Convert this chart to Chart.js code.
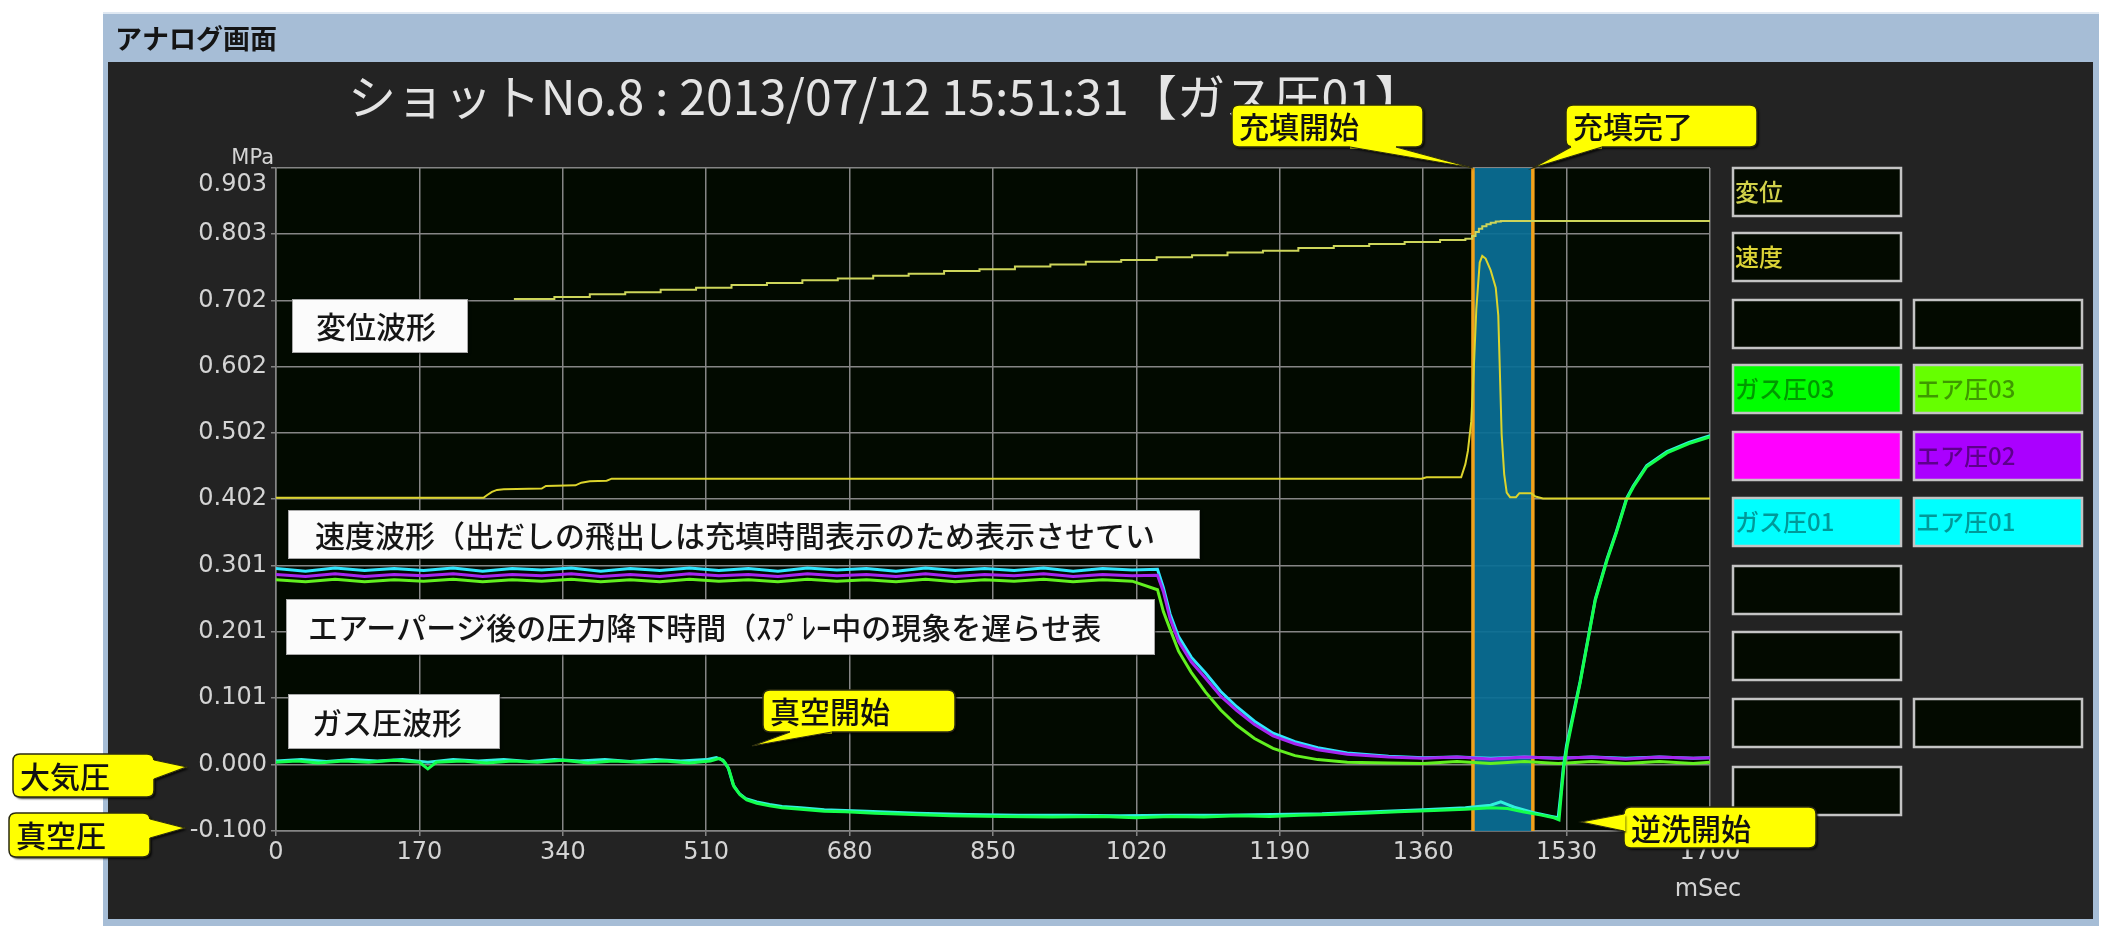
<!DOCTYPE html>
<html lang="ja">
<head>
<meta charset="utf-8">
<title>アナログ画面</title>
<script src="https://cdn.jsdelivr.net/npm/chart.js@4/dist/chart.umd.min.js"></script>
<style>
  html, body { margin: 0; padding: 0; background: #ffffff; overflow: hidden; }
  canvas { display: block; }
</style>
</head>
<body>
<canvas id="analog" width="2105" height="926"></canvas>
<script>
// ---------- axis ticks ----------
const xTickValues = [0, 170, 340, 510, 680, 850, 1020, 1190, 1360, 1530, 1700];
const yTickValues = [-0.100, 0.000, 0.101, 0.201, 0.301, 0.402, 0.502, 0.602, 0.702, 0.803, 0.903];

// ---------- 変位 (displacement, stepped trace) ----------
const dispTime  = [282, 330, 372, 414, 456, 498, 540, 582, 624, 666,
                   708, 750, 792, 834, 876, 918, 960, 1002, 1044, 1086,
                   1128, 1170, 1212, 1254, 1296, 1338, 1380, 1410, 1418, 1422,
                   1426, 1430, 1435, 1440, 1446, 1452, 1700];
const dispValue = [0.705, 0.708, 0.712, 0.715, 0.719, 0.722, 0.726, 0.729, 0.733, 0.736,
                   0.740, 0.743, 0.747, 0.750, 0.754, 0.757, 0.761, 0.764, 0.768, 0.771,
                   0.775, 0.778, 0.782, 0.785, 0.788, 0.791, 0.794, 0.796, 0.800, 0.806,
                   0.811, 0.815, 0.818, 0.820, 0.822, 0.823, 0.823];

// ---------- 速度 (velocity) ----------
const velTime  = [0, 246, 250, 256, 262, 270, 315, 320, 355, 362,
                  372, 392, 398, 1358, 1364, 1405, 1410, 1413, 1417, 1420,
                  1423, 1427, 1430, 1434, 1440, 1446, 1449, 1451, 1453, 1456,
                  1459, 1463, 1470, 1474, 1488, 1493, 1502, 1700];
const velValue = [0.404, 0.404, 0.408, 0.413, 0.416, 0.417, 0.418, 0.422, 0.423, 0.427,
                  0.429, 0.430, 0.433, 0.433, 0.435, 0.435, 0.455, 0.475, 0.520, 0.600,
                  0.690, 0.760, 0.770, 0.766, 0.748, 0.722, 0.680, 0.590, 0.500, 0.440,
                  0.412, 0.405, 0.405, 0.411, 0.411, 0.406, 0.403, 0.403];

// ---------- エア圧 01/02/03 (air pressure) ----------
const airTime = [0, 35, 70, 105, 140, 175, 210, 245, 280, 315,
                 350, 385, 420, 455, 490, 525, 560, 595, 630, 665,
                 700, 735, 770, 805, 840, 875, 910, 945, 980, 1015,
                 1045, 1052, 1060, 1070, 1085, 1102, 1120, 1139, 1160, 1182,
                 1208, 1235, 1270, 1319, 1360, 1400, 1440, 1480, 1520, 1560,
                 1600, 1640, 1680, 1700];
const air01Value = [0.297, 0.293, 0.298, 0.294, 0.297, 0.294, 0.298, 0.293, 0.297, 0.295,
                    0.298, 0.293, 0.297, 0.294, 0.298, 0.294, 0.297, 0.293, 0.298, 0.295,
                    0.297, 0.293, 0.298, 0.294, 0.297, 0.294, 0.298, 0.293, 0.297, 0.295,
                    0.296, 0.268, 0.228, 0.194, 0.163, 0.139, 0.111, 0.088, 0.066, 0.048,
                    0.035, 0.026, 0.018, 0.013, 0.011, 0.012, 0.010, 0.012, 0.010, 0.012,
                    0.010, 0.012, 0.010, 0.011];
const air02Value = [0.288, 0.285, 0.289, 0.285, 0.288, 0.286, 0.289, 0.285, 0.288, 0.286,
                    0.289, 0.285, 0.288, 0.285, 0.289, 0.286, 0.288, 0.285, 0.289, 0.286,
                    0.288, 0.285, 0.289, 0.285, 0.288, 0.286, 0.289, 0.285, 0.288, 0.286,
                    0.287, 0.262, 0.221, 0.187, 0.156, 0.131, 0.104, 0.082, 0.061, 0.044,
                    0.032, 0.023, 0.016, 0.012, 0.010, 0.012, 0.009, 0.012, 0.010, 0.012,
                    0.009, 0.012, 0.010, 0.011];
const air03Value = [0.280, 0.277, 0.281, 0.277, 0.280, 0.278, 0.281, 0.277, 0.280, 0.278,
                    0.281, 0.277, 0.280, 0.277, 0.281, 0.278, 0.280, 0.277, 0.281, 0.278,
                    0.280, 0.277, 0.281, 0.277, 0.280, 0.278, 0.281, 0.277, 0.280, 0.278,
                    0.265, 0.232, 0.205, 0.172, 0.140, 0.110, 0.083, 0.060, 0.040, 0.025,
                    0.014, 0.008, 0.004, 0.003, 0.002, 0.005, 0.002, 0.005, 0.002, 0.005,
                    0.002, 0.005, 0.002, 0.004];

// ---------- ガス圧03 (gas pressure, green) ----------
const gas03Time  = [0, 25, 50, 80, 110, 140, 170, 180, 190, 220,
                    250, 280, 310, 340, 370, 400, 430, 460, 490, 515,
                    526, 532, 537, 543, 550, 558, 570, 585, 600, 622,
                    650, 675, 710, 754, 800, 860, 920, 980, 1019, 1060,
                    1100, 1140, 1178, 1214, 1250, 1290, 1330, 1373, 1410, 1441,
                    1460, 1478, 1500, 1515, 1521, 1524, 1527, 1531, 1546, 1564,
                    1578, 1589, 1601, 1609, 1625, 1649, 1675, 1700];
const gas03Value = [0.004, 0.006, 0.003, 0.006, 0.004, 0.007, 0.004, -0.006, 0.004, 0.006,
                    0.003, 0.006, 0.004, 0.007, 0.003, 0.006, 0.004, 0.006, 0.003, 0.006,
                    0.010, 0.004, -0.007, -0.033, -0.045, -0.053, -0.058, -0.062, -0.065, -0.067,
                    -0.070, -0.071, -0.073, -0.075, -0.077, -0.078, -0.079, -0.078, -0.080, -0.078,
                    -0.079, -0.077, -0.078, -0.076, -0.075, -0.073, -0.071, -0.069, -0.067, -0.065,
                    -0.066, -0.071, -0.076, -0.080, -0.083, -0.040, 0.000, 0.030, 0.124, 0.249,
                    0.310, 0.351, 0.401, 0.420, 0.451, 0.472, 0.486, 0.496];

// ---------- ガス圧01 (gas pressure, cyan) ----------
const gas01Time  = [0, 30, 60, 90, 120, 150, 180, 210, 240, 270,
                    300, 330, 360, 390, 420, 450, 480, 510, 522, 530,
                    536, 542, 549, 557, 570, 585, 600, 622, 650, 700,
                    760, 820, 880, 940, 1000, 1060, 1120, 1180, 1240, 1300,
                    1360, 1410, 1440, 1452, 1458, 1468, 1490, 1512, 1520, 1523,
                    1526, 1530, 1546, 1564, 1578, 1589, 1601, 1609, 1625, 1649,
                    1675, 1700];
const gas01Value = [0.006, 0.008, 0.005, 0.008, 0.006, 0.008, 0.004, 0.008, 0.006, 0.008,
                    0.005, 0.008, 0.006, 0.008, 0.005, 0.008, 0.006, 0.008, 0.011, 0.007,
                    -0.004, -0.030, -0.043, -0.051, -0.056, -0.060, -0.063, -0.065, -0.068, -0.070,
                    -0.073, -0.075, -0.076, -0.076, -0.077, -0.076, -0.076, -0.075, -0.074, -0.071,
                    -0.068, -0.065, -0.061, -0.056, -0.059, -0.064, -0.072, -0.078, -0.080, -0.045,
                    -0.005, 0.030, 0.126, 0.251, 0.312, 0.353, 0.403, 0.422, 0.453, 0.474,
                    0.488, 0.498];

// filling window (ms)
const fillStartMs = 1419;
const fillEndMs = 1490;

// ---------- texts ----------
const headerText = 'アナログ画面';
const titleText = 'ショットNo.8 : 2013/07/12 15:51:31【ガス圧01】';

// ---------- colours ----------
const COL = {
  disp: '#cdd55a', vel: '#dcd42c',
  gas03: '#14ff4c', gas01: '#30f0dc',
  air01: '#30e6ff', air02: '#a526f0', air03: '#62f020'
};
const tickInk = '#d4d4d4';
const tickFont = '24px "DejaVu Sans"';

const toPoints = (xs, ys) => xs.map((x, i) => ({ x, y: ys[i] }));

// ---------- drawing helpers ----------
function roundRectPath(ctx, x, y, w, h, r) {
  ctx.beginPath();
  ctx.moveTo(x + r, y);
  ctx.lineTo(x + w - r, y);
  ctx.quadraticCurveTo(x + w, y, x + w, y + r);
  ctx.lineTo(x + w, y + h - r);
  ctx.quadraticCurveTo(x + w, y + h, x + w - r, y + h);
  ctx.lineTo(x + r, y + h);
  ctx.quadraticCurveTo(x, y + h, x, y + h - r);
  ctx.lineTo(x, y + r);
  ctx.quadraticCurveTo(x, y, x + r, y);
  ctx.closePath();
}

function drawFitted(ctx, text, x, y, width) {
  const w = ctx.measureText(text).width;
  ctx.save();
  ctx.translate(x, y);
  ctx.scale(width / w, 1);
  ctx.fillText(text, 0, 0);
  ctx.restore();
}

// yellow speech-bubble label with a pointed tail
function drawCallout(ctx, c) {
  const [A, T, B] = c.tail;
  ctx.save();
  ctx.shadowColor = 'rgba(0,0,0,0.75)';
  ctx.shadowOffsetX = 2; ctx.shadowOffsetY = 2; ctx.shadowBlur = 2;
  ctx.fillStyle = '#ffff00';
  roundRectPath(ctx, c.x, c.y, c.w, c.h, 7);
  ctx.fill();
  ctx.beginPath(); ctx.moveTo(A[0], A[1]); ctx.lineTo(T[0], T[1]); ctx.lineTo(B[0], B[1]); ctx.closePath();
  ctx.fill();
  ctx.restore();

  ctx.save();
  ctx.strokeStyle = '#2b2b10';
  ctx.lineWidth = 1.5;
  roundRectPath(ctx, c.x, c.y, c.w, c.h, 7);
  ctx.stroke();
  ctx.fillStyle = '#ffff00';
  ctx.beginPath(); ctx.moveTo(A[0], A[1]); ctx.lineTo(T[0], T[1]); ctx.lineTo(B[0], B[1]); ctx.closePath();
  ctx.fill();
  ctx.strokeStyle = '#ffff00';
  ctx.lineWidth = 3;
  ctx.beginPath(); ctx.moveTo(A[0], A[1]); ctx.lineTo(B[0], B[1]); ctx.stroke();
  ctx.strokeStyle = '#2b2b10';
  ctx.lineWidth = 1.2;
  ctx.beginPath(); ctx.moveTo(A[0], A[1]); ctx.lineTo(T[0], T[1]); ctx.lineTo(B[0], B[1]); ctx.stroke();

  ctx.fillStyle = '#111111';
  ctx.font = '500 30px "Noto Sans CJK JP"';
  ctx.textBaseline = 'middle';
  ctx.textAlign = 'left';
  ctx.fillText(c.text, c.x + 7, c.y + c.h / 2 + 1);
  ctx.restore();
}

// white caption box inside the plot
function drawNote(ctx, n) {
  ctx.save();
  ctx.shadowColor = 'rgba(0,0,0,0.5)';
  ctx.shadowOffsetX = 1; ctx.shadowOffsetY = 1; ctx.shadowBlur = 2;
  ctx.fillStyle = '#fbfbfb';
  ctx.fillRect(n.x, n.y, n.w, n.h);
  ctx.restore();
  ctx.save();
  ctx.strokeStyle = '#a8a8a8';
  ctx.lineWidth = 1;
  ctx.strokeRect(n.x + 0.5, n.y + 0.5, n.w - 1, n.h - 1);
  ctx.fillStyle = '#151515';
  ctx.font = '500 30px "Noto Sans CJK JP"';
  ctx.textBaseline = 'middle';
  ctx.fillText(n.text, n.tx, n.y + n.h / 2 + 1);
  ctx.restore();
}

// ---------- page furniture ----------
const notes = [
  { x: 292, y: 299, w: 176, h: 54, tx: 316, text: '変位波形' },
  { x: 288, y: 510, w: 912, h: 49, tx: 315, text: '速度波形（出だしの飛出しは充填時間表示のため表示させてい' },
  { x: 286, y: 599, w: 869, h: 56, tx: 308, text: 'エアーパージ後の圧力降下時間（ｽﾌﾟﾚｰ中の現象を遅らせ表' },
  { x: 288, y: 694, w: 212, h: 55, tx: 312, text: 'ガス圧波形' }
];

const legendRowTop = [167, 232, 299, 364, 431, 497, 565, 631, 698, 766];
const legendColX = [1732, 1913];
const legendCells = [
  { col: 0, row: 0, text: '変位', fill: null, ink: '#d2d24a' },
  { col: 0, row: 1, text: '速度', fill: null, ink: '#dcd436' },
  { col: 0, row: 2, text: '', fill: null },
  { col: 1, row: 2, text: '', fill: null },
  { col: 0, row: 3, text: 'ガス圧03', fill: '#00ff00', ink: 'rgba(0,70,0,0.55)' },
  { col: 1, row: 3, text: 'エア圧03', fill: '#66ff00', ink: 'rgba(30,70,0,0.55)' },
  { col: 0, row: 4, text: '', fill: '#ff00ff' },
  { col: 1, row: 4, text: 'エア圧02', fill: '#aa00ff', ink: 'rgba(60,0,90,0.7)' },
  { col: 0, row: 5, text: 'ガス圧01', fill: '#00ffff', ink: 'rgba(0,70,70,0.55)' },
  { col: 1, row: 5, text: 'エア圧01', fill: '#00ffff', ink: 'rgba(0,70,70,0.55)' },
  { col: 0, row: 6, text: '', fill: null },
  { col: 0, row: 7, text: '', fill: null },
  { col: 0, row: 8, text: '', fill: null },
  { col: 1, row: 8, text: '', fill: null },
  { col: 0, row: 9, text: '', fill: null }
];

const panelPlugin = {
  id: 'analogPanel',
  beforeDraw(chart) {
    const { ctx, chartArea: a, width, height } = chart;
    ctx.save();
    ctx.fillStyle = '#ffffff';
    ctx.fillRect(0, 0, width, height);
    // window frame + header strip
    ctx.fillStyle = '#a6bdd6';
    ctx.fillRect(103, 12, 1996, height - 12);
    ctx.fillStyle = '#dfe8f2';
    ctx.fillRect(103, 12, 1996, 2);
    ctx.fillStyle = '#232323';
    ctx.fillRect(108, 62, 1985, 857);
    // header
    ctx.fillStyle = '#141414';
    ctx.font = '700 27px "Noto Sans CJK JP"';
    ctx.textBaseline = 'middle';
    ctx.fillText(headerText, 115, 39);
    // title
    ctx.fillStyle = '#e4e4e4';
    ctx.font = '400 48px "Noto Sans CJK JP"';
    drawFitted(ctx, titleText, 348, 97, 1075);
    // plot background
    ctx.fillStyle = '#020a00';
    ctx.fillRect(a.left, a.top, a.right - a.left, a.bottom - a.top);
    ctx.restore();
  },
  beforeDatasetsDraw(chart) {
    const { ctx, chartArea: a, scales: { x } } = chart;
    const x0 = x.getPixelForValue(fillStartMs);
    const x1 = x.getPixelForValue(fillEndMs);
    ctx.save();
    ctx.fillStyle = 'rgba(10,111,150,0.93)';
    ctx.fillRect(x0, a.top, x1 - x0, a.bottom - a.top);
    ctx.strokeStyle = '#f2a21c';
    ctx.lineWidth = 3.5;
    [x0, x1].forEach(px => {
      ctx.beginPath(); ctx.moveTo(px, a.top); ctx.lineTo(px, a.bottom); ctx.stroke();
    });
    ctx.restore();
  },
  afterDraw(chart) {
    const { ctx, chartArea: a, scales: { x, y } } = chart;
    ctx.save();
    ctx.fillStyle = tickInk;
    // top value of the pressure axis sits just inside the plot's upper edge
    ctx.font = tickFont;
    ctx.textAlign = 'right';
    ctx.textBaseline = 'middle';
    const topTick = yTickValues[yTickValues.length - 1];
    ctx.fillText(topTick.toFixed(3), a.left - 9, y.getPixelForValue(topTick) + 17);
    // unit captions
    ctx.font = '21px "DejaVu Sans"';
    ctx.textBaseline = 'bottom';
    ctx.fillText('MPa', a.left - 2, a.top + 1);
    ctx.textAlign = 'center';
    ctx.textBaseline = 'middle';
    ctx.font = tickFont;
    ctx.fillText('mSec', a.right - 2, 890);
    ctx.restore();

    notes.forEach(n => drawNote(ctx, n));

    // series key boxes
    ctx.save();
    legendCells.forEach(c => {
      const bx = legendColX[c.col], by = legendRowTop[c.row];
      ctx.fillStyle = c.fill || '#030a00';
      ctx.fillRect(bx, by, 170, 50);
      ctx.strokeStyle = '#c4c4c4';
      ctx.lineWidth = 2.5;
      ctx.strokeRect(bx + 1, by + 1, 168, 48);
      if (c.text) {
        ctx.fillStyle = c.ink;
        ctx.font = '500 24px "Noto Sans CJK JP"';
        ctx.textBaseline = 'middle';
        ctx.textAlign = 'left';
        ctx.fillText(c.text, bx + 3, by + 25);
      }
    });
    ctx.restore();

    // event markers
    const xs = x.getPixelForValue(fillStartMs);
    const xe = x.getPixelForValue(fillEndMs);
    const callouts = [
      { text: '充填開始', x: 1232, y: 105, w: 191, h: 42, tail: [[1350, 147], [xs, a.top], [1396, 147]] },
      { text: '充填完了', x: 1566, y: 105, w: 191, h: 42, tail: [[1571, 147], [xe, a.top], [1602, 147]] },
      { text: '真空開始', x: 763, y: 690, w: 192, h: 42, tail: [[790, 732], [752, 746], [832, 732]] },
      { text: '逆洗開始', x: 1624, y: 807, w: 192, h: 41, tail: [[1624, 814], [1581, 822], [1624, 831]] },
      { text: '大気圧', x: 13, y: 754, w: 141, h: 43, tail: [[154, 760], [187, y.getPixelForValue(0) + 2], [154, 779]] },
      { text: '真空圧', x: 9, y: 813, w: 141, h: 44, tail: [[150, 819], [185, y.getPixelForValue(-0.1) - 3], [150, 838]] }
    ];
    callouts.forEach(c => drawCallout(ctx, c));
  }
};

Chart.defaults.font.family = '"DejaVu Sans", sans-serif';

const gridColor = '#858585';

new Chart(document.getElementById('analog'), {
  type: 'line',
  data: {
    datasets: [
      { label: '速度', data: toPoints(velTime, velValue), borderColor: COL.vel, borderWidth: 2 },
      { label: '変位', data: toPoints(dispTime, dispValue), borderColor: COL.disp, borderWidth: 2, stepped: true },
      { label: 'ガス圧03', data: toPoints(gas03Time, gas03Value), borderColor: COL.gas03, borderWidth: 3 },
      { label: 'ガス圧01', data: toPoints(gas01Time, gas01Value), borderColor: COL.gas01, borderWidth: 3 },
      { label: 'エア圧03', data: toPoints(airTime, air03Value), borderColor: COL.air03, borderWidth: 3 },
      { label: 'エア圧02', data: toPoints(airTime, air02Value), borderColor: COL.air02, borderWidth: 3 },
      { label: 'エア圧01', data: toPoints(airTime, air01Value), borderColor: COL.air01, borderWidth: 3 }
    ]
  },
  options: {
    responsive: false,
    animation: false,
    events: [],
    layout: { padding: { top: 168, right: 395, bottom: 0, left: 0 } },
    elements: { point: { radius: 0 }, line: { tension: 0, fill: false } },
    plugins: { legend: { display: false }, tooltip: { enabled: false }, title: { display: false } },
    scales: {
      x: {
        type: 'linear',
        min: 0, max: 1700,
        afterFit(s) { s.height = 95; },
        afterBuildTicks(s) { s.ticks = xTickValues.map(v => ({ value: v })); },
        ticks: { color: tickInk, font: { size: 24 }, padding: 2, maxRotation: 0, autoSkip: false, callback: v => String(v) },
        grid: { color: gridColor, lineWidth: 1.5, tickLength: 5, tickColor: gridColor },
        border: { color: gridColor, width: 1.5 }
      },
      y: {
        type: 'linear',
        min: -0.1, max: 0.903,
        afterFit(s) { s.width = 276; },
        afterBuildTicks(s) { s.ticks = yTickValues.map(v => ({ value: v })); },
        ticks: {
          color: tickInk, font: { size: 24 }, padding: 4, autoSkip: false,
          callback: (v, i, ticks) => (i === ticks.length - 1 ? '' : v.toFixed(3))
        },
        grid: { color: gridColor, lineWidth: 1.5, tickLength: 5, tickColor: gridColor },
        border: { color: gridColor, width: 1.5 }
      }
    }
  },
  plugins: [panelPlugin]
});
</script>
</body>
</html>
